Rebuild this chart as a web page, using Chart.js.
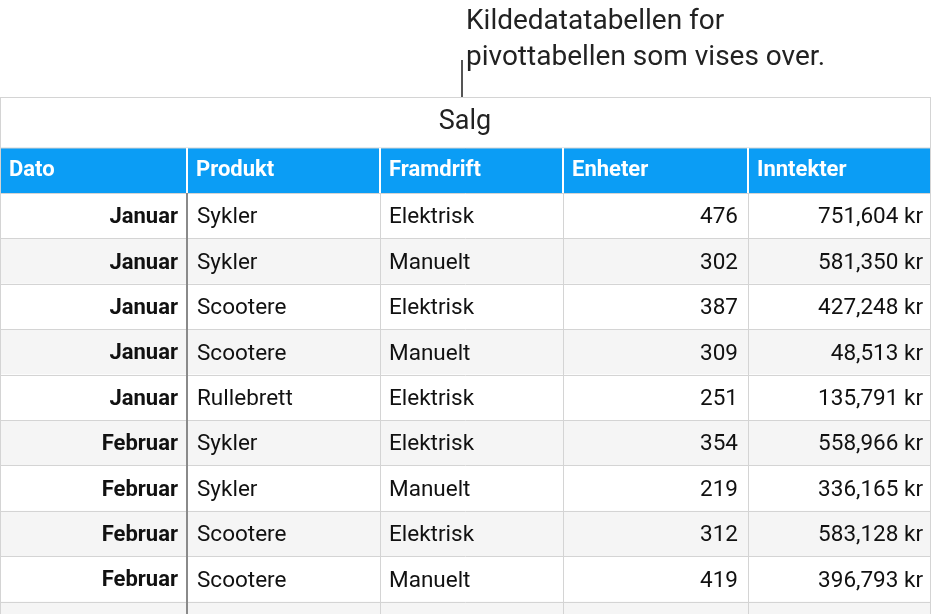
<!DOCTYPE html>
<html>
<head>
<meta charset="utf-8">
<script src="https://cdn.jsdelivr.net/npm/chart.js@4"></script>
<style>
body { margin: 0; background: #fff; }
#wrap { width: 931px; height: 614px; }
</style>
</head>
<body>
<div id="wrap"><canvas id="myChart"></canvas></div>
<script>
// table data
var title = 'Salg';
var callout = ['Kildedatatabellen for', 'pivottabellen som vises over.'];
var headers = ['Dato', 'Produkt', 'Framdrift', 'Enheter', 'Inntekter'];
var months = ['Januar', 'Januar', 'Januar', 'Januar', 'Januar', 'Februar', 'Februar', 'Februar', 'Februar'];
var products = ['Sykler', 'Sykler', 'Scootere', 'Scootere', 'Rullebrett', 'Sykler', 'Sykler', 'Scootere', 'Scootere'];
var drive = ['Elektrisk', 'Manuelt', 'Elektrisk', 'Manuelt', 'Elektrisk', 'Elektrisk', 'Manuelt', 'Elektrisk', 'Manuelt'];
var units = [476, 302, 387, 309, 251, 354, 219, 312, 419];
var revenue = [751604, 581350, 427248, 48513, 135791, 558966, 336165, 583128, 396793];

// layout (pixels in a 931x614 space)
var colEdges = [0, 187, 380, 563, 748, 931];
var tableTop = 97, titleH = 51, headH = 45, rowH = 45.4;

function fmtKr(v) {
    return v.toLocaleString('en-US') + ' kr';
}

var tablePlugin = {
    id: 'table',
    afterDraw: function (chart) {
        var c = chart.ctx, xs = chart.scales.x, ys = chart.scales.y;
        var X = function (v) { return xs.getPixelForValue(v); };
        var Y = function (v) { return ys.getPixelForValue(v); };
        var font = '"Helvetica Neue", Roboto, "Liberation Sans", sans-serif';
        c.save();
        // callout
        c.fillStyle = '#222';
        c.font = '28px ' + font;
        c.textBaseline = 'middle';
        c.textAlign = 'left';
        c.fillText(callout[0], X(466), Y(22));
        c.fillText(callout[1], X(466), Y(58));
        c.strokeStyle = '#555';
        c.lineWidth = 2;
        c.beginPath(); c.moveTo(X(462), Y(60)); c.lineTo(X(462), Y(tableTop)); c.stroke();

        var headTop = tableTop + titleH;
        var bodyTop = headTop + headH;
        var nRows = months.length + 1;
        // row backgrounds
        for (var r = 0; r < nRows; r++) {
            var y0 = bodyTop + r * rowH;
            c.fillStyle = r % 2 ? '#f5f5f5' : '#ffffff';
            c.fillRect(X(0), Y(y0), X(931) - X(0), Y(y0 + rowH) - Y(y0));
        }
        // header
        c.fillStyle = '#0b9df5';
        c.fillRect(X(0), Y(headTop), X(931) - X(0), Y(bodyTop) - Y(headTop));
        // grid lines
        c.strokeStyle = '#d4d4d4';
        c.lineWidth = 1;
        c.strokeRect(X(0) + 0.5, Y(tableTop) + 0.5, X(931) - X(0) - 1, 700);
        for (var r2 = 0; r2 <= nRows; r2++) {
            var yy = Math.round(Y(bodyTop + r2 * rowH)) + 0.5;
            c.beginPath(); c.moveTo(X(0), yy); c.lineTo(X(931), yy); c.stroke();
        }
        c.beginPath(); c.moveTo(X(0), Y(headTop)); c.lineTo(X(931), Y(headTop)); c.stroke();
        for (var k = 2; k < colEdges.length - 1; k++) {
            var xx = Math.round(X(colEdges[k])) + 0.5;
            c.beginPath(); c.moveTo(xx, Y(bodyTop)); c.lineTo(xx, Y(614)); c.stroke();
        }
        c.strokeStyle = '#ffffff';
        c.lineWidth = 2;
        for (var k2 = 1; k2 < colEdges.length - 1; k2++) {
            c.beginPath(); c.moveTo(X(colEdges[k2]), Y(headTop)); c.lineTo(X(colEdges[k2]), Y(bodyTop)); c.stroke();
        }
        c.strokeStyle = '#8a8a8a';
        c.lineWidth = 2;
        c.beginPath(); c.moveTo(X(187), Y(bodyTop)); c.lineTo(X(187), Y(614)); c.stroke();

        // title
        c.fillStyle = '#222';
        c.font = '27px ' + font;
        c.textAlign = 'center';
        c.fillText(title, X(465), Y(tableTop + titleH / 2));
        // headers
        c.fillStyle = '#fff';
        c.font = 'bold 22px ' + font;
        c.textAlign = 'left';
        headers.forEach(function (h, i) {
            c.fillText(h, X(colEdges[i] + 9), Y(headTop + headH / 2));
        });
        // body
        for (var i = 0; i < months.length; i++) {
            var cy = Y(bodyTop + i * rowH + rowH / 2 + 2);
            c.fillStyle = '#111';
            c.font = 'bold 22px ' + font;
            c.textAlign = 'right';
            c.fillText(months[i], X(colEdges[1] - 9), cy);
            c.font = '22.5px ' + font;
            c.textAlign = 'left';
            c.fillText(products[i], X(colEdges[1] + 10), cy);
            c.fillText(drive[i], X(colEdges[2] + 9), cy);
            c.textAlign = 'right';
            c.fillText(String(units[i]), X(colEdges[4] - 10), cy);
            c.fillText(fmtKr(revenue[i]), X(colEdges[5] - 8), cy);
        }
        c.restore();
    }
};

var ctx = document.getElementById('myChart');
var myChart = new Chart(ctx, {
    type: 'scatter',
    data: { datasets: [{ data: [], pointRadius: 0 }] },
    options: {
        responsive: true,
        maintainAspectRatio: false,
        animation: false,
        layout: { padding: 0 },
        plugins: { legend: { display: false }, tooltip: { enabled: false } },
        scales: {
            x: { type: 'linear', min: 0, max: 931, display: false },
            y: { type: 'linear', min: 0, max: 614, reverse: true, display: false }
        }
    },
    plugins: [tablePlugin]
});
</script>
</body>
</html>
